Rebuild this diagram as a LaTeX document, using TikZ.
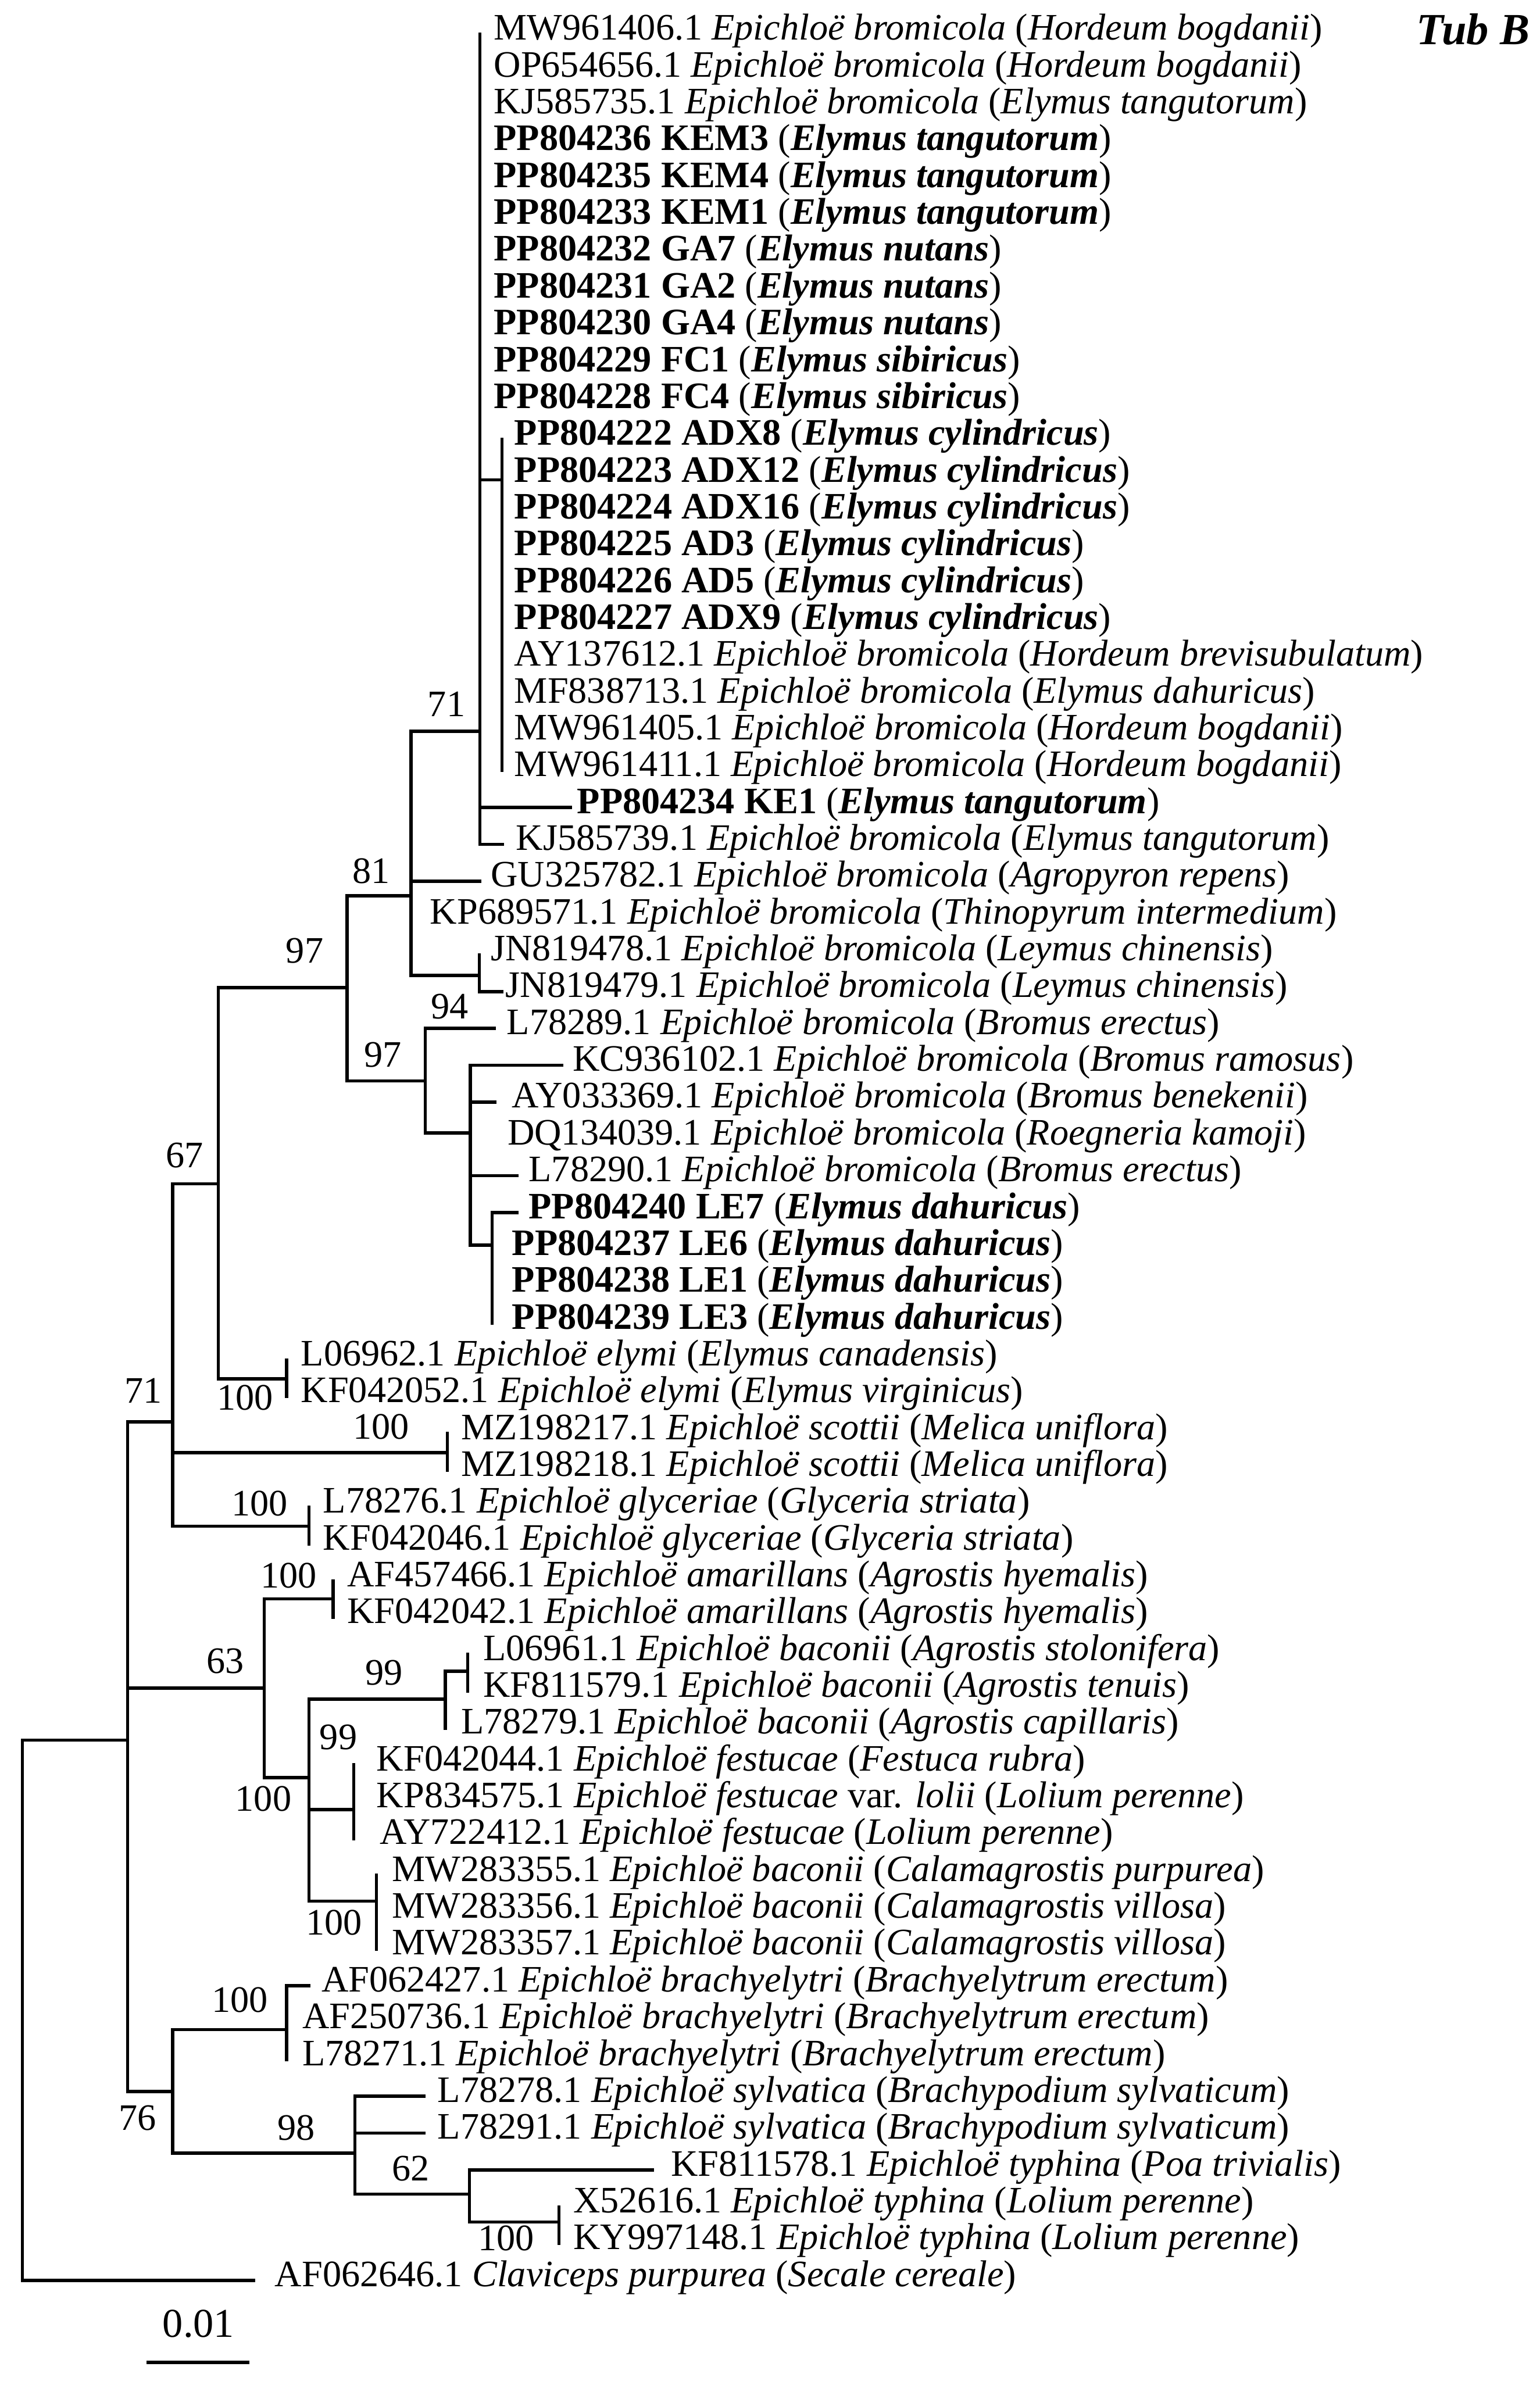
\documentclass[tikz,border=0pt]{standalone}
\usepackage{fontspec}
\setmainfont{Liberation Serif}
\usetikzlibrary{positioning}
\newcommand{\epi}[1]{\textit{Epichloë #1}}
\newcommand{\hostp}[1]{(\textit{#1})}
\newcommand{\ownseq}[2]{\textbf{#1} (\textbf{\textit{#2}})}

\begin{document}
\begin{tikzpicture}[x=0.03cm,y=-0.03cm,
  branch/.style={line width=1.8pt, line cap=rect},
  leaf/.style={anchor=west, inner sep=0pt, text height=0.66em, text depth=0pt,
    font=\fontsize{21}{24}\selectfont},
  boot/.style={inner sep=0pt, text height=0.68em, text depth=0pt,
    font=\fontsize{21}{24}\selectfont}]
\useasboundingbox (0,0) rectangle (1014,1568);
\fill[white] (0,0) rectangle (1014,1568);

% internal nodes
\coordinate (R) at (14.8,1146);
\coordinate (N84) at (84.1,1146);
\coordinate (N71b) at (113.7,936.4);
\coordinate (N67) at (143.7,779.6);
\coordinate (N97a) at (228.5,650.3);
\coordinate (N81) at (270.6,590);
\coordinate (N71a) at (316,481.5);
\coordinate (NADX) at (330.6,316);
\coordinate (NJN) at (315.6,642.3);
\coordinate (N97b) at (280,711.8);
\coordinate (NBro) at (309.7,746);
\coordinate (NLE) at (324,820);
\coordinate (NElymi) at (188.7,908);
\coordinate (NMZ) at (294.5,956.6);
\coordinate (NGly) at (203.5,1005);
\coordinate (N63) at (173.9,1111.7);
\coordinate (NAm) at (219.4,1053);
\coordinate (NFes) at (203.5,1170.7);
\coordinate (NBacA) at (293.3,1119);
\coordinate (NBacB) at (308,1100.6);
\coordinate (NFesB) at (233,1191.6);
\coordinate (NMW) at (247.8,1252);
\coordinate (N76) at (113.7,1377.3);
\coordinate (NBra) at (188.7,1336.5);
\coordinate (N98) at (233.7,1418);
\coordinate (N62) at (309.2,1445);
\coordinate (NTy) at (368,1463.2);

\foreach \a/\b in {R/N84, N84/N71b, N84/N63, N84/N76, N71b/N67, N71b/NMZ,
  N71b/NGly, N67/N97a, N67/NElymi, N97a/N81, N97a/N97b, N81/N71a, N81/NJN,
  N71a/NADX, N97b/NBro, NBro/NLE, N63/NAm, N63/NFes, NFes/NBacA, NFes/NFesB,
  NFes/NMW, NBacA/NBacB, N76/NBra, N76/N98, N98/N62, N62/NTy}
  \draw[branch] (\a) |- (\b);

% leaves: index/parent/tip/text/label
\foreach \i/\p/\tx/\lx/\lab in {
  1/N71a/316/325/{MW961406.1 \epi{bromicola} \hostp{Hordeum bogdanii}},
  2/N71a/316/325/{OP654656.1 \epi{bromicola} \hostp{Hordeum bogdanii}},
  3/N71a/316/325/{KJ585735.1 \epi{bromicola} \hostp{Elymus tangutorum}},
  4/N71a/316/325/{\ownseq{PP804236 KEM3}{Elymus tangutorum}},
  5/N71a/316/325/{\ownseq{PP804235 KEM4}{Elymus tangutorum}},
  6/N71a/316/325/{\ownseq{PP804233 KEM1}{Elymus tangutorum}},
  7/N71a/316/325/{\ownseq{PP804232 GA7}{Elymus nutans}},
  8/N71a/316/325/{\ownseq{PP804231 GA2}{Elymus nutans}},
  9/N71a/316/325/{\ownseq{PP804230 GA4}{Elymus nutans}},
  10/N71a/316/325/{\ownseq{PP804229 FC1}{Elymus sibiricus}},
  11/N71a/316/325/{\ownseq{PP804228 FC4}{Elymus sibiricus}},
  12/NADX/330.6/338.5/{\ownseq{PP804222 ADX8}{Elymus cylindricus}},
  13/NADX/330.6/338.5/{\ownseq{PP804223 ADX12}{Elymus cylindricus}},
  14/NADX/330.6/338.5/{\ownseq{PP804224 ADX16}{Elymus cylindricus}},
  15/NADX/330.6/338.5/{\ownseq{PP804225 AD3}{Elymus cylindricus}},
  16/NADX/330.6/338.5/{\ownseq{PP804226 AD5}{Elymus cylindricus}},
  17/NADX/330.6/338.5/{\ownseq{PP804227 ADX9}{Elymus cylindricus}},
  18/NADX/330.6/338.5/{AY137612.1 \epi{bromicola} \hostp{Hordeum brevisubulatum}},
  19/NADX/330.6/338.5/{MF838713.1 \epi{bromicola} \hostp{Elymus dahuricus}},
  20/NADX/330.6/338.5/{MW961405.1 \epi{bromicola} \hostp{Hordeum bogdanii}},
  21/NADX/330.6/338.5/{MW961411.1 \epi{bromicola} \hostp{Hordeum bogdanii}},
  22/N71a/375.5/379.8/{\ownseq{PP804234 KE1}{Elymus tangutorum}},
  23/N71a/331/339.6/{KJ585739.1 \epi{bromicola} \hostp{Elymus tangutorum}},
  24/N81/316/323/{GU325782.1 \epi{bromicola} \hostp{Agropyron repens}},
  25/N81/270.6/283/{KP689571.1 \epi{bromicola} \hostp{Thinopyrum intermedium}},
  26/NJN/315.6/323/{JN819478.1 \epi{bromicola} \hostp{Leymus chinensis}},
  27/NJN/330.5/332.7/{JN819479.1 \epi{bromicola} \hostp{Leymus chinensis}},
  28/N97b/325.6/333.5/{L78289.1 \epi{bromicola} \hostp{Bromus erectus}},
  29/NBro/370/377/{KC936102.1 \epi{bromicola} \hostp{Bromus ramosus}},
  30/NBro/326/337/{AY033369.1 \epi{bromicola} \hostp{Bromus benekenii}},
  31/NBro/309.7/334/{DQ134039.1 \epi{bromicola} \hostp{Roegneria kamoji}},
  32/NBro/340.5/348/{L78290.1 \epi{bromicola} \hostp{Bromus erectus}},
  33/NLE/340.5/348/{\ownseq{PP804240 LE7}{Elymus dahuricus}},
  34/NLE/324/337/{\ownseq{PP804237 LE6}{Elymus dahuricus}},
  35/NLE/324/337/{\ownseq{PP804238 LE1}{Elymus dahuricus}},
  36/NLE/324/337/{\ownseq{PP804239 LE3}{Elymus dahuricus}},
  37/NElymi/188.7/198/{L06962.1 \epi{elymi} \hostp{Elymus canadensis}},
  38/NElymi/188.7/198/{KF042052.1 \epi{elymi} \hostp{Elymus virginicus}},
  39/NMZ/294.5/303.5/{MZ198217.1 \epi{scottii} \hostp{Melica uniflora}},
  40/NMZ/294.5/303.5/{MZ198218.1 \epi{scottii} \hostp{Melica uniflora}},
  41/NGly/203.5/212.6/{L78276.1 \epi{glyceriae} \hostp{Glyceria striata}},
  42/NGly/203.5/212.6/{KF042046.1 \epi{glyceriae} \hostp{Glyceria striata}},
  43/NAm/219.4/228.5/{AF457466.1 \epi{amarillans} \hostp{Agrostis hyemalis}},
  44/NAm/219.4/228.5/{KF042042.1 \epi{amarillans} \hostp{Agrostis hyemalis}},
  45/NBacB/308/318/{L06961.1 \epi{baconii} \hostp{Agrostis stolonifera}},
  46/NBacB/308/318/{KF811579.1 \epi{baconii} \hostp{Agrostis tenuis}},
  47/NBacA/293.3/303.5/{L78279.1 \epi{baconii} \hostp{Agrostis capillaris}},
  48/NFesB/233/247.8/{KF042044.1 \epi{festucae} \hostp{Festuca rubra}},
  49/NFesB/233/247.8/{KP834575.1 \epi{festucae} var. \textit{lolii} \hostp{Lolium perenne}},
  50/NFesB/233/250/{AY722412.1 \epi{festucae} \hostp{Lolium perenne}},
  51/NMW/247.8/258/{MW283355.1 \epi{baconii} \hostp{Calamagrostis purpurea}},
  52/NMW/247.8/258/{MW283356.1 \epi{baconii} \hostp{Calamagrostis villosa}},
  53/NMW/247.8/258/{MW283357.1 \epi{baconii} \hostp{Calamagrostis villosa}},
  54/NBra/203.5/211.5/{AF062427.1 \epi{brachyelytri} \hostp{Brachyelytrum erectum}},
  55/NBra/188.7/199/{AF250736.1 \epi{brachyelytri} \hostp{Brachyelytrum erectum}},
  56/NBra/188.7/199/{L78271.1 \epi{brachyelytri} \hostp{Brachyelytrum erectum}},
  57/N98/279.2/288/{L78278.1 \epi{sylvatica} \hostp{Brachypodium sylvaticum}},
  58/N98/279.2/288/{L78291.1 \epi{sylvatica} \hostp{Brachypodium sylvaticum}},
  59/N62/429.6/441.6/{KF811578.1 \epi{typhina} \hostp{Poa trivialis}},
  60/NTy/368/377.3/{X52616.1 \epi{typhina} \hostp{Lolium perenne}},
  61/NTy/368/377.3/{KY997148.1 \epi{typhina} \hostp{Lolium perenne}},
  62/R/167/180.8/{AF062646.1 \textit{Claviceps purpurea} \hostp{Secale cereale}}}{
  \pgfmathsetmacro{\yy}{22.5+(\i-1)*24.25}
  \coordinate (t\i) at (\tx,\yy);
  \node[leaf] (l\i) at (\lx,\yy) {\lab};
  \draw[branch] (\p) |- (t\i);
}

% bootstrap values
\node[boot] (b71a) at (294,468) {71};
\node[boot] (b81) at (244.5,577.6) {81};
\node[boot] (b97a) at (200.6,630) {97};
\node[boot] (b97b) at (252,698.7) {97};
\node[boot] (b94) at (296,667) {94};
\node[boot] (b67) at (121.7,765) {67};
\node[boot] (b100e) at (161.5,924.6) {100};
\node[boot] (b71b) at (94.4,920) {71};
\node[boot] (b100m) at (251,943.6) {100};
\node[boot] (b100g) at (171,994) {100};
\node[boot] (b100a) at (190,1041.5) {100};
\node[boot] (b63) at (148.4,1098) {63};
\node[boot] (b99a) at (253,1105.5) {99};
\node[boot] (b99b) at (222.8,1148) {99};
\node[boot] (b100f) at (173.4,1188.6) {100};
\node[boot] (b100w) at (220,1270) {100};
\node[boot] (b100b) at (158,1321) {100};
\node[boot] (b76) at (90.4,1399) {76};
\node[boot] (b98) at (195,1405.4) {98};
\node[boot] (b62) at (270.6,1432) {62};
\node[boot] (b100t) at (333.3,1478) {100};

% title and scale bar
\node[inner sep=0pt, text height=0.66em, text depth=0pt,
  font=\fontsize{25}{28}\selectfont\bfseries\itshape] (title) at (970,25.5) {Tub B};
\coordinate (sbl) at (96.6,1555.8);
\coordinate (sbr) at (164.2,1555.8);
\draw[line width=1.8pt] (sbl) -- (sbr);
\node[inner sep=0pt, text height=0.68em, text depth=0pt,
  font=\fontsize{23}{26}\selectfont] (sbt) at (130.7,1535) {0.01};
\end{tikzpicture}
\end{document}
